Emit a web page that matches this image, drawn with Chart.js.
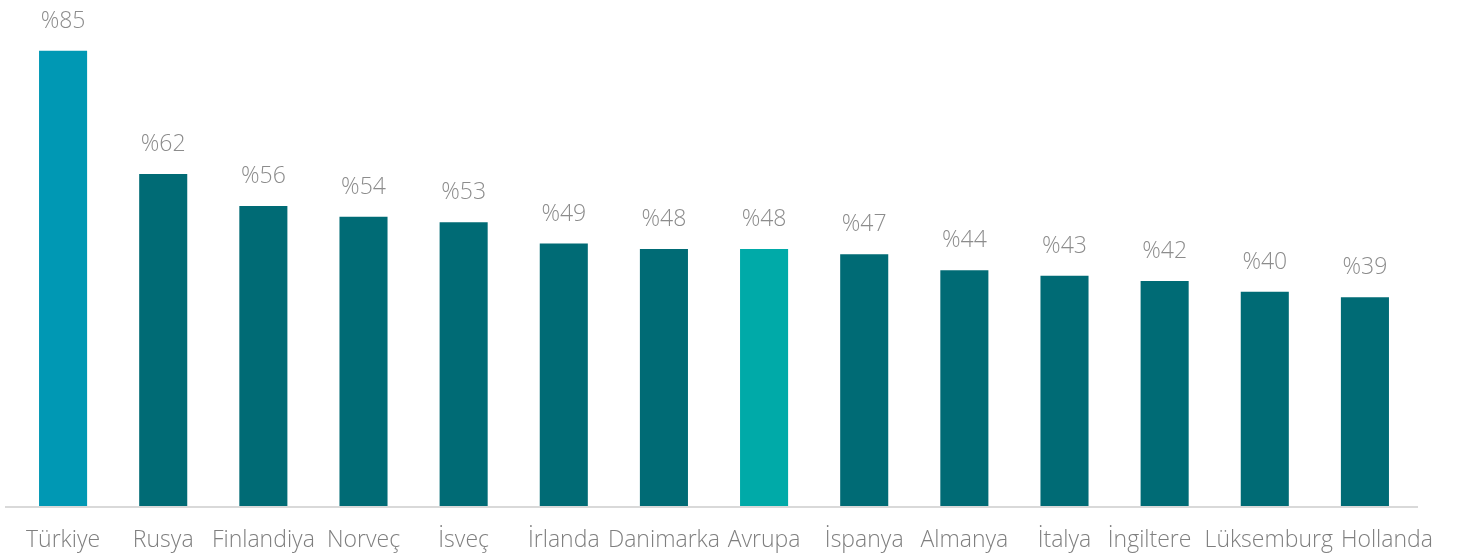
<!DOCTYPE html>
<html>
<head>
<meta charset="utf-8">
<script src="https://cdn.jsdelivr.net/npm/chart.js@4/dist/chart.umd.min.js"></script>
<style>
  html, body { margin: 0; padding: 0; background: #fff; }
  #wrap { width: 1459px; height: 554px; position: relative; }
</style>
</head>
<body>
<div id="wrap"><canvas id="barChart"></canvas></div>
<script>
const countries = ['Türkiye', 'Rusya', 'Finlandiya', 'Norveç', 'İsveç', 'İrlanda', 'Danimarka', 'Avrupa', 'İspanya', 'Almanya', 'İtalya', 'İngiltere', 'Lüksemburg', 'Hollanda'];
const shares = [85, 62, 56, 54, 53, 49, 48, 48, 47, 44, 43, 42, 40, 39];
const barColors = ['#0098b4', '#006b75', '#006b75', '#006b75', '#006b75', '#006b75', '#006b75', '#00aaa8', '#006b75', '#006b75', '#006b75', '#006b75', '#006b75', '#006b75'];

const FONT = "'Open Sans', 'Noto Sans', sans-serif";

// 右端の長いラベルが重ならないよう少しずらす（px）
const labelNudge = { 11: -15, 12: 4, 13: 22 };

// ▼ 棒の上の「%xx」ラベル、カテゴリ名、軸線
const valueLabels = {
  id: 'valueLabels',
  afterDatasetsDraw(chart) {
    const ctx = chart.ctx;
    const area = chart.chartArea;
    const xScale = chart.scales.x;
    ctx.save();
    ctx.strokeStyle = '#d9d9d9';
    ctx.lineWidth = 2;
    ctx.beginPath();
    ctx.moveTo(area.left - 8, area.bottom + 1);
    ctx.lineTo(area.right + 3, area.bottom + 1);
    ctx.stroke();

    ctx.font = '300 23px ' + FONT;
    ctx.fillStyle = '#8c8c8c';
    ctx.textAlign = 'center';
    ctx.textBaseline = 'middle';
    chart.getDatasetMeta(0).data.forEach((bar, i) => {
      ctx.fillText('%' + shares[i], bar.x, bar.y - 29.5);
    });

    ctx.fillStyle = '#7f7f7f';
    countries.forEach((name, i) => {
      ctx.fillText(name, xScale.getPixelForTick(i) + (labelNudge[i] || 0), area.bottom + 34);
    });
    ctx.restore();
  }
};

new Chart(document.getElementById('barChart'), {
  type: 'bar',
  data: {
    labels: countries,
    datasets: [{
      data: shares,
      backgroundColor: barColors,
      barPercentage: 0.6,
      categoryPercentage: 0.8
    }]
  },
  options: {
    responsive: true,
    maintainAspectRatio: false,
    animation: false,
    layout: { padding: { top: 24, left: 13, right: 44, bottom: 0 } },
    plugins: {
      legend: { display: false },
      tooltip: { enabled: false }
    },
    scales: {
      x: {
        grid: { display: false, drawTicks: false },
        border: { display: false },
        afterFit(axis) { axis.height = 48; },
        ticks: { display: false }
      },
      y: {
        display: false,
        min: 0,
        max: 90
      }
    }
  },
  plugins: [valueLabels]
});
</script>
</body>
</html>
